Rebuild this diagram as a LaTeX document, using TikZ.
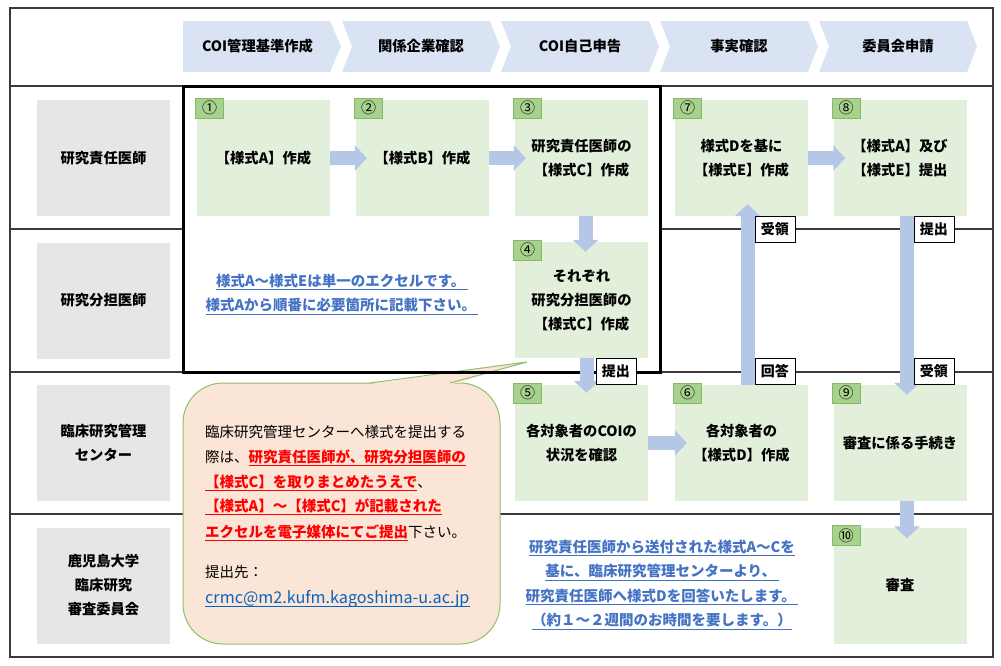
\documentclass[tikz,border=0pt]{standalone}
\usepackage{fontspec}
\setmainfont{Noto Sans CJK JP}
\usetikzlibrary{arrows.meta}
\definecolor{chev}{HTML}{DAE3F3}
\definecolor{lanegrey}{HTML}{E7E6E6}
\definecolor{stepgreen}{HTML}{E2EFDA}
\definecolor{taggreen}{HTML}{A9D18E}
\definecolor{tagborder}{HTML}{85B867}
\definecolor{arrowblue}{HTML}{B4C7E7}
\definecolor{callfill}{HTML}{FBE5D6}
\definecolor{callborder}{HTML}{8FC16A}
\definecolor{notered}{HTML}{FF0000}
\definecolor{noteblue}{HTML}{4472C4}
\definecolor{linkblue}{HTML}{0563C1}
\definecolor{gridgrey}{HTML}{3A3A3A}
\newcommand\myuline[3]{\setbox0\hbox{#3}\leavevmode\rlap{\color{#1}\rule[-4pt]{\wd0}{#2}}\box0}
\begin{document}
\begin{tikzpicture}[x=1pt,y=-1pt,
  gridline/.style={draw=gridgrey, line width=1.3pt},
  heavybox/.style={draw=black, line width=3pt},
  chevshape/.style={fill=chev},
  headtext/.style={font=\bfseries\fontsize{14.3}{14}\selectfont, text=black},
  lanebox/.style={fill=lanegrey, minimum width=133pt, minimum height=116pt, inner sep=0pt, align=center, font=\bfseries\fontsize{14.3}{24}\selectfont},
  stepbox/.style={fill=stepgreen, minimum width=133pt, minimum height=116pt, inner sep=0pt, align=center, font=\bfseries\fontsize{14.3}{24}\selectfont},
  tagbox/.style={fill=taggreen, draw=tagborder, line width=0.8pt, minimum width=28pt, minimum height=20pt, inner sep=0pt, anchor=north west, font=\fontsize{15}{15}\selectfont},
  barrow/.style={draw=arrowblue, line width=14pt, -{Triangle[width=25pt,length=12pt]}},
  lbl/.style={fill=white, draw=black, line width=0.9pt, inner sep=0pt, minimum width=40pt, minimum height=26pt, font=\bfseries\fontsize{14}{14}\selectfont},
  bluenote/.style={align=center, text=noteblue, font=\bfseries\fontsize{14.5}{24.5}\selectfont},
  callline/.style={anchor=base west, inner sep=0pt, font=\fontsize{14.5}{14.5}\selectfont, text=black}
]
\useasboundingbox (0,0) rectangle (1001,665);
% grid
\draw[gridline] (10,8) rectangle (993,657);
\draw[gridline] (10,86) -- (993,86);
\draw[gridline] (10,229) -- (183,229);
\draw[gridline] (660,229) -- (993,229);
\draw[gridline] (10,372) -- (993,372);
\draw[gridline] (10,514) -- (993,514);
% header chevrons
\fill[chevshape] (183,21) -- (330,21) -- (341,46.5) -- (330,72) -- (183,72) -- cycle;
\fill[chevshape] (342,21) -- (490,21) -- (500,46.5) -- (490,72) -- (342,72) -- (352,46.5) -- cycle;
\fill[chevshape] (501,21) -- (649,21) -- (659,46.5) -- (649,72) -- (501,72) -- (511,46.5) -- cycle;
\fill[chevshape] (660,21) -- (808,21) -- (818,46.5) -- (808,72) -- (660,72) -- (670,46.5) -- cycle;
\fill[chevshape] (819,21) -- (967,21) -- (977,46.5) -- (967,72) -- (819,72) -- (829,46.5) -- cycle;
\node[headtext] (h1) at (257.5,46.5) {COI管理基準作成};
\node[headtext] (h2) at (421,46.5) {関係企業確認};
\node[headtext] (h3) at (580,46.5) {COI自己申告};
\node[headtext] (h4) at (739,46.5) {事実確認};
\node[headtext] (h5) at (898,46.5) {委員会申請};
% lanes
\node[lanebox] (L1) at (103.5,158) {研究責任医師};
\node[lanebox] (L2) at (103.5,300.5) {研究分担医師};
\node[lanebox] (L3) at (103.5,443) {臨床研究管理\\センター};
\node[lanebox] (L4) at (103.5,585.5) {鹿児島大学\\臨床研究\\審査委員会};
% callout
\draw[draw=callborder, fill=callfill, line width=1pt, rounded corners=40pt] (183,383) rectangle (500,644);
\fill[callfill] (368,384.2) -- (527,362) -- (452,384.2) -- cycle;
\draw[callborder, line width=1pt] (370,383) -- (527,362) -- (450,383);
% heavy box
\draw[heavybox] (183,86) rectangle (660,372);
% steps
\node[stepbox] (s1) at (263.5,158) {【様式A】作成};
\node[stepbox] (s2) at (422.5,158) {【様式B】作成};
\node[stepbox] (s3) at (581.5,158) {研究責任医師の\\【様式C】作成};
\node[stepbox] (s4) at (581.5,300) {それぞれ\\研究分担医師の\\【様式C】作成};
\node[stepbox] (s5) at (581.5,443) {各対象者のCOIの\\状況を確認};
\node[stepbox] (s6) at (741.5,443) {各対象者の\\【様式D】作成};
\node[stepbox] (s7) at (741.5,158) {様式Dを基に\\【様式E】作成};
\node[stepbox] (s8) at (900,158) {【様式A】及び\\【様式E】提出};
\node[stepbox] (s9) at (900,443) {審査に係る手続き};
\node[stepbox] (s10) at (900,585.5) {審査};
% tags
\node[tagbox] (t1) at ([xshift=-1.5pt,yshift=2pt]s1.north west) {①};
\node[tagbox] (t2) at ([xshift=-1.5pt,yshift=2pt]s2.north west) {②};
\node[tagbox] (t3) at ([xshift=-1.5pt,yshift=2pt]s3.north west) {③};
\node[tagbox] (t4) at ([xshift=-1.5pt,yshift=2pt]s4.north west) {④};
\node[tagbox] (t5) at ([xshift=-1.5pt,yshift=2pt]s5.north west) {⑤};
\node[tagbox] (t6) at ([xshift=-1.5pt,yshift=2pt]s6.north west) {⑥};
\node[tagbox] (t7) at ([xshift=-1.5pt,yshift=2pt]s7.north west) {⑦};
\node[tagbox] (t8) at ([xshift=-1.5pt,yshift=2pt]s8.north west) {⑧};
\node[tagbox] (t9) at ([xshift=-1.5pt,yshift=2pt]s9.north west) {⑨};
\node[tagbox] (t10) at ([xshift=-1.5pt,yshift=2pt]s10.north west) {⑩};
% arrows
\draw[barrow] (s1.east) -- ([xshift=11pt]s2.west);
\draw[barrow] (s2.east) -- ([xshift=11pt]s3.west);
\draw[barrow] ([xshift=4pt]s3.south) -- ([xshift=4pt,yshift=-10pt]s4.north);
\draw[barrow] ([xshift=5pt]s4.south) -- ([xshift=5pt,yshift=-8pt]s5.north);
\draw[barrow] (s5.east) -- ([xshift=12pt]s6.west);
\draw[barrow] ([xshift=6pt]s6.north) -- ([xshift=6pt,yshift=12pt]s7.south);
\draw[barrow] (s7.east) -- ([xshift=12pt]s8.west);
\draw[barrow] ([xshift=7pt]s8.south) -- ([xshift=7pt,yshift=-10pt]s9.north);
\draw[barrow] ([xshift=7pt]s9.south) -- ([xshift=7pt,yshift=-11pt]s10.north);
% arrow labels
\node[lbl, anchor=west] (k1) at (595.5,371.5) {提出};
\node[lbl, anchor=west] (k2) at (754.5,229) {受領};
\node[lbl, anchor=west] (k3) at (754.5,371.5) {回答};
\node[lbl, anchor=west] (k4) at (913.5,229) {提出};
\node[lbl, anchor=west] (k5) at (913.5,371.5) {受領};
% blue notes
\node[bluenote] (n1) at (342,294) {\myuline{noteblue}{1pt}{様式A～様式Eは単一のエクセルです。\,}\\\myuline{noteblue}{1pt}{様式Aから順番に必要箇所に記載下さい。\,}};
\node[bluenote] (n2) at (662,585) {\myuline{noteblue}{1pt}{研究責任医師から送付された様式A～Cを}\\\myuline{noteblue}{1pt}{基に、臨床研究管理センターより、\,}\\\myuline{noteblue}{1pt}{研究責任医師へ様式Dを回答いたします。\,}\\\myuline{noteblue}{1pt}{（約１～２週間のお時間を要します。）}};
% callout text
\node[callline] (c1) at (205,437) {臨床研究管理センターへ様式を提出する};
\node[callline] (c2) at (205,462) {際は、{\bfseries\color{notered}\myuline{notered}{1.5pt}{研究責任医師が、研究分担医師の}}};
\node[callline] (c3) at (205,487) {{\bfseries\color{notered}\myuline{notered}{1.5pt}{【様式C】を取りまとめたうえで}}、};
\node[callline] (c4) at (205,511) {{\bfseries\color{notered}\myuline{notered}{1.5pt}{【様式A】～【様式C】が記載された}}};
\node[callline] (c5) at (205,537) {{\bfseries\color{notered}\myuline{notered}{1.5pt}{エクセルを電子媒体にてご提出}}下さい。};
\node[callline] (c6) at (205,577) {提出先：};
\node[callline, font=\fontsize{16.2}{16}\selectfont] (c7) at (205,603) {\color{linkblue}\myuline{linkblue}{1pt}{crmc@m2.kufm.kagoshima-u.ac.jp}};
\end{tikzpicture}
\end{document}
